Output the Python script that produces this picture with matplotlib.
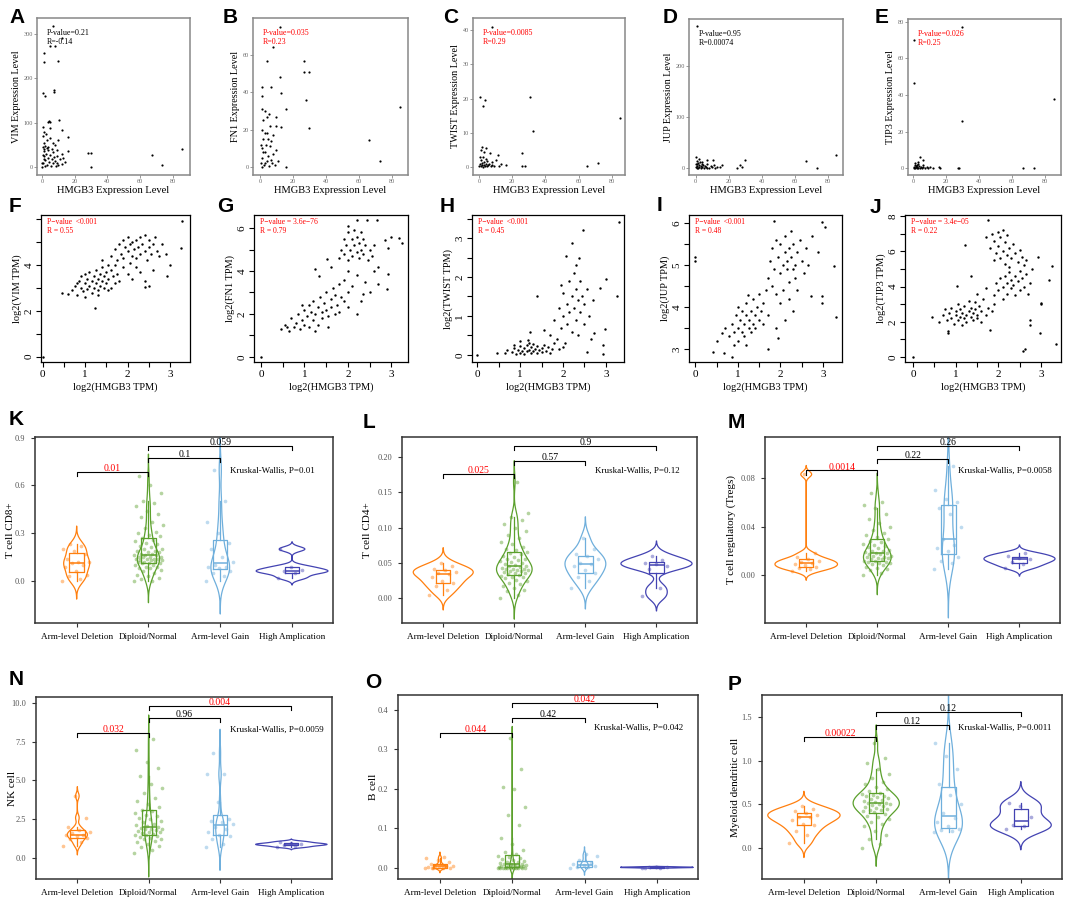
import numpy as np
import matplotlib
matplotlib.use('Agg')
import matplotlib.pyplot as plt

plt.rcParams['font.family'] = ['Liberation Serif', 'DejaVu Serif']

W, H = 1072, 905

# ---------------- A-E: raw expression vs HMGB3 ----------------
a_pts = [(7, 319), (1.4, 257), (1.4, 236), (10, 239), (5, 272), (8, 272), (12, 290), (0.4, 166),
         (1.8, 160), (7.3, 170), (7.3, 174), (10.6, 106), (3.5, 102), (4.2, 103), (4.8, 101), (12.4, 83),
         (16, 68), (4.9, 88), (0.8, 90), (10, 61), (1.5, 80), (2.5, 75), (0.5, 70), (3, 60), (5, 65),
         (6.5, 55), (1.2, 55), (8, 50), (2, 48), (4, 45), (0.5, 45), (16, 35), (28, 31), (30, 31),
         (67, 27), (85.7, 40), (73.5, 4.5), (29.7, 1), (12, 7), (0.3, 0), (0.5, 10), (1, 25), (1.5, 35),
         (2, 15), (2.5, 30), (3, 5), (3.5, 20), (4, 38), (4.5, 12), (5, 28), (5.5, 3), (6, 18), (6.5, 33),
         (7, 8), (7.5, 22), (8, 14), (8.5, 2), (9, 25), (9.5, 10), (10, 5), (11, 18), (12, 30), (13, 20),
         (14, 12), (1, 40), (2, 3), (0.8, 28), (3, 42), (6, 40), (1.5, 18), (9, 38), (0.2, 8)]
b_pts = [(12, 75), (8, 64), (4, 57), (26.7, 57), (26.7, 51), (29.7, 51), (12, 48), (7, 43), (13, 39.5),
         (1, 43), (1, 38), (28, 36), (15.5, 31), (1, 31), (3, 30), (5.5, 28.5), (10, 26.6), (9.7, 22),
         (12.5, 21.5), (30, 21), (85, 32), (66, 14.5), (73, 3), (16, 0), (0.5, 2), (1, 5), (1.5, 10),
         (2, 15), (2.5, 1), (3, 8), (3.5, 12), (4, 3), (4.5, 18), (5, 6), (5.5, 0.5), (6, 11), (6.5, 4),
         (7, 14), (7.5, 2), (8, 7), (9, 1), (10, 9), (11, 3), (1, 20), (2, 25), (3, 18), (0.5, 12),
         (6, 22), (4, 27), (8, 17), (1.5, 0), (3, 2), (5, 15), (2, 8)]
c_pts = [(7.8, 41), (0.6, 20.5), (3.5, 19.5), (2.5, 17.8), (30.7, 20.4), (32.5, 10.5), (85, 14.3),
         (25.7, 4), (26, 0.3), (28, 0.3), (65, 0.3), (71.5, 1.2), (11.6, 3.5), (6.6, 4), (13, 1),
         (16, 0.5), (0.3, 0.2), (0.6, 1), (1, 0.3), (1.3, 2), (1.6, 0.5), (2, 1.2), (2.3, 0.1), (2.6, 3),
         (3, 0.7), (3.3, 1.5), (3.6, 0.2), (4, 2.5), (4.3, 0.8), (4.6, 0.3), (5, 1.8), (5.5, 0.5), (6, 1),
         (7, 0.2), (8, 1.5), (9, 0.4), (10, 2), (1, 5), (2, 6), (3, 4.5), (0.5, 3), (4, 5.5), (8, 0.6),
         (12, 0.2)]
d_pts = [(0.6, 277), (0.5, 22), (6.6, 16), (10.6, 17), (29.7, 16), (26.7, 7), (66.5, 14), (73, 0),
         (85, 26.5), (28, 3), (25, 1), (15, 2), (16, 6), (0.3, 2), (0.6, 5), (1, 8), (1.3, 1), (1.6, 10),
         (2, 3), (2.3, 6), (2.6, 12), (3, 0.5), (3.3, 4), (3.6, 9), (4, 2), (4.5, 7), (5, 1), (5.5, 5),
         (6, 3), (7, 8), (8, 1), (9, 4), (10, 2), (11, 6), (12, 1), (13, 3), (1, 14), (2, 18), (0.8, 0),
         (4, 13), (7, 0), (0.2, 9)]
e_pts = [(29.4, 77), (0.4, 70), (0.4, 46.4), (29.6, 25.8), (85.5, 37.6), (5.7, 4.5), (15.8, 1), (27, 0),
         (28, 0), (66.5, 0), (73.5, 0), (4, 6), (3, 3.5), (6, 2), (0.2, 0.2), (0.5, 1), (0.8, 0.3), (1, 2),
         (1.3, 0.5), (1.6, 1.5), (2, 0.1), (2.3, 0.8), (2.6, 2.5), (3, 0.2), (3.5, 1.2), (4, 0.4),
         (4.5, 0.9), (5, 0.1), (6, 0.6), (7, 0.3), (8, 1), (9, 0.2), (10, 0.5), (12, 0.1), (1, 3), (2, 2),
         (16, 0)]

# ---------------- F-J: log2 TPM vs log2 HMGB3 ----------------
f_pts = [(0.45, 2.8), (0.6, 2.75), (0.7, 2.9), (0.75, 3.1), (0.8, 2.7), (0.85, 3.3), (0.9, 3.0), (0.9, 3.5),
         (0.95, 2.85), (1.0, 3.2), (1.0, 3.6), (1.05, 2.95), (1.05, 3.4), (1.1, 3.1), (1.1, 3.7), (1.15, 2.8),
         (1.15, 3.3), (1.2, 3.5), (1.2, 3.0), (1.25, 3.2), (1.25, 3.8), (1.3, 2.9), (1.3, 3.4), (1.35, 3.6),
         (1.35, 3.1), (1.4, 3.3), (1.4, 3.9), (1.45, 3.0), (1.45, 3.5), (1.5, 3.2), (1.5, 3.7), (1.55, 3.4),
         (1.6, 3.0), (1.6, 3.8), (1.65, 3.5), (1.7, 3.2), (1.7, 4.0), (1.75, 3.6), (1.8, 3.3), (1.23, 2.14),
         (0.8, 3.2), (1.0, 2.6), (1.3, 2.7), (1.55, 2.9), (1.6, 4.4), (1.7, 4.7), (1.75, 4.2), (1.8, 4.9),
         (1.85, 4.5), (1.9, 5.1), (1.9, 4.3), (1.95, 4.8), (2.0, 4.6), (2.0, 5.2), (2.05, 4.1), (2.05, 4.9),
         (2.1, 4.4), (2.1, 5.0), (2.15, 4.7), (2.2, 5.1), (2.2, 4.3), (2.25, 4.8), (2.3, 5.2), (2.3, 4.5),
         (2.35, 4.9), (2.4, 4.6), (2.4, 5.3), (2.45, 4.2), (2.5, 4.8), (2.5, 5.1), (2.55, 4.5), (2.6, 4.9),
         (2.65, 5.2), (2.7, 4.6), (2.75, 4.4), (2.8, 4.9), (2.0, 3.6), (2.1, 3.4), (2.2, 3.9), (2.3, 3.7),
         (2.4, 3.3), (1.9, 3.9), (2.6, 3.8), (2.5, 3.1), (2.92, 3.5), (2.41, 3.06), (3.26, 4.73),
         (3.28, 5.93), (0.0, 0.0), (3.0, 4.0), (2.9, 4.5), (1.4, 4.2), (1.55, 4.0)]
g_pts = [(0.45, 1.3), (0.55, 1.5), (0.65, 1.2), (0.7, 1.8), (0.75, 1.4), (0.8, 1.6), (0.85, 2.0), (0.9, 1.3),
         (0.95, 1.7), (1.0, 2.2), (1.0, 1.5), (1.05, 1.9), (1.1, 2.4), (1.1, 1.4), (1.15, 2.1), (1.2, 1.7),
         (1.2, 2.6), (1.25, 2.0), (1.3, 2.3), (1.3, 1.5), (1.35, 2.8), (1.4, 2.1), (1.4, 1.8), (1.45, 2.5),
         (1.5, 2.2), (1.5, 3.0), (1.55, 1.9), (1.6, 2.7), (1.6, 2.3), (1.65, 3.2), (1.7, 2.0), (1.7, 2.9),
         (1.75, 2.4), (1.8, 3.4), (1.8, 2.1), (1.85, 2.8), (0.6, 1.4), (0.95, 2.4), (1.25, 1.2), (1.55, 1.4),
         (1.24, 4.1), (1.34, 3.78), (1.51, 4.56), (1.6, 4.2), (1.9, 3.6), (2.0, 3.0), (2.0, 4.0), (2.1, 3.3),
         (2.2, 3.8), (2.3, 2.6), (2.35, 2.92), (2.5, 3.0), (2.4, 3.5), (2.6, 4.0), (2.7, 3.4), (2.89, 3.15),
         (2.93, 3.86), (2.0, 2.3), (2.2, 2.0), (1.9, 2.6), (1.8, 4.6), (1.85, 5.0), (1.9, 5.5), (1.9, 4.8),
         (1.95, 5.2), (2.0, 5.8), (2.0, 4.5), (2.05, 5.0), (2.1, 5.5), (2.1, 4.7), (2.15, 5.9), (2.15, 5.2),
         (2.2, 4.9), (2.2, 5.6), (2.25, 5.3), (2.25, 4.6), (2.3, 5.8), (2.3, 5.0), (2.35, 4.8), (2.35, 5.5),
         (2.4, 5.2), (2.45, 4.5), (2.5, 5.0), (2.55, 4.7), (2.6, 5.2), (2.2, 6.4), (2.44, 6.4), (2.66, 6.4),
         (3.18, 5.54), (3.25, 5.3), (2.99, 5.58), (2.85, 5.43), (2.93, 5.08), (2.7, 4.2), (2.0, 6.1),
         (0.0, 0.0)]
h_pts = [(0.46, 0.06), (0.65, 0.05), (0.7, 0.12), (0.8, 0.08), (0.85, 0.18), (0.9, 0.03), (0.95, 0.14),
         (1.0, 0.22), (1.0, 0.06), (1.05, 0.1), (1.1, 0.17), (1.1, 0.02), (1.15, 0.25), (1.15, 0.09),
         (1.2, 0.13), (1.25, 0.05), (1.25, 0.2), (1.3, 0.1), (1.3, 0.28), (1.35, 0.15), (1.4, 0.04),
         (1.4, 0.22), (1.45, 0.12), (1.5, 0.18), (1.5, 0.07), (1.55, 0.25), (1.6, 0.1), (1.65, 0.2),
         (1.7, 0.05), (1.75, 0.15), (1.8, 0.3), (0.85, 0.25), (1.2, 0.32), (1.0, 0.35), (0.0, 0.0),
         (1.23, 0.6), (1.19, 0.38), (1.56, 0.64), (1.39, 1.5), (1.7, 0.5), (1.8, 0.9), (1.85, 0.4),
         (1.9, 1.2), (1.95, 0.7), (2.0, 1.0), (2.0, 1.6), (2.05, 0.3), (2.1, 1.3), (2.1, 0.8), (2.15, 1.9),
         (2.15, 1.1), (2.2, 0.6), (2.2, 1.5), (2.25, 1.2), (2.25, 2.1), (2.3, 0.9), (2.3, 1.7), (2.35, 1.4),
         (2.35, 0.5), (2.4, 1.1), (2.4, 1.9), (2.45, 1.5), (2.5, 0.8), (2.5, 1.3), (2.55, 1.7), (2.6, 1.0),
         (2.65, 0.4), (2.7, 1.4), (2.07, 2.54), (2.38, 2.5), (2.22, 2.86), (2.47, 3.2), (3.3, 3.4),
         (3.0, 1.94), (3.25, 1.52), (2.86, 1.71), (2.72, 0.56), (2.98, 0.66), (2.94, 0.26), (2.94, 0.03),
         (2.55, 0.07), (1.9, 0.15), (2.0, 0.2), (1.95, 1.8), (2.3, 2.3)]
i_pts = [(0.42, 2.92), (0.68, 2.9), (0.85, 2.82), (0.62, 3.37), (0.5, 3.2), (0.7, 3.5), (0.8, 3.3), (0.85, 3.6),
         (0.9, 3.4), (0.95, 3.8), (1.0, 3.5), (1.0, 3.2), (1.05, 3.7), (1.1, 3.4), (1.1, 3.9), (1.15, 3.6),
         (1.15, 3.3), (1.2, 3.8), (1.2, 4.1), (1.25, 3.5), (1.25, 3.7), (1.3, 3.9), (1.3, 3.4), (1.35, 3.6),
         (1.35, 4.2), (1.4, 3.8), (1.4, 3.5), (1.45, 4.0), (1.5, 3.7), (1.5, 4.3), (1.55, 3.9), (1.6, 3.6),
         (1.6, 4.1), (1.65, 4.4), (1.7, 3.8), (1.71, 2.99), (1.95, 3.25), (1.24, 4.29), (1.0, 4.0), (0.9, 3.1),
         (1.2, 3.1), (1.7, 4.7), (1.75, 5.1), (1.8, 4.5), (1.8, 5.4), (1.85, 4.9), (1.9, 5.6), (1.9, 4.3),
         (1.95, 5.2), (2.0, 4.8), (2.0, 5.5), (2.05, 5.0), (2.05, 4.4), (2.1, 5.7), (2.1, 5.3), (2.15, 4.9),
         (2.15, 5.1), (2.2, 5.4), (2.2, 4.6), (2.25, 5.8), (2.25, 5.2), (2.3, 4.9), (2.3, 5.5), (2.35, 5.0),
         (2.35, 4.7), (2.4, 5.3), (2.45, 5.6), (2.5, 5.1), (2.55, 4.8), (2.6, 5.4), (2.65, 5.0), (2.0, 4.1),
         (2.2, 4.2), (2.4, 4.4), (1.85, 6.05), (0.0, 5.2), (0.0, 5.1), (2.99, 6.03), (3.05, 5.9), (3.27, 4.98),
         (2.89, 5.3), (2.97, 4.25), (2.97, 4.1), (2.72, 4.26), (3.32, 3.75), (2.75, 5.7), (2.1, 3.7),
         (2.3, 3.9), (1.9, 3.5)]
j_pts = [(0.44, 2.25), (0.6, 2.0), (0.7, 2.4), (0.75, 2.7), (0.8, 2.1), (0.83, 1.5), (0.83, 1.34), (0.85, 2.5),
         (0.9, 2.2), (0.9, 2.8), (0.95, 1.9), (1.0, 2.4), (1.0, 2.6), (1.05, 2.1), (1.05, 3.0), (1.1, 2.3),
         (1.1, 2.7), (1.15, 1.8), (1.15, 2.5), (1.2, 2.2), (1.2, 2.9), (1.25, 2.4), (1.25, 2.0), (1.3, 2.6),
         (1.3, 3.2), (1.35, 2.3), (1.35, 2.8), (1.4, 2.1), (1.4, 2.5), (1.45, 2.7), (1.45, 3.1), (1.5, 2.2),
         (1.5, 2.4), (1.55, 2.9), (1.6, 2.6), (1.6, 2.0), (1.65, 3.3), (1.7, 2.4), (1.75, 2.8), (1.8, 1.53),
         (1.85, 2.6), (1.9, 3.0), (1.02, 4.04), (1.37, 4.59), (1.22, 6.35), (0.0, 0.0), (1.5, 3.6), (1.7, 3.9),
         (1.9, 3.5), (1.95, 4.2), (2.0, 3.8), (2.05, 4.5), (2.1, 3.3), (2.1, 4.0), (2.15, 4.6), (2.2, 4.2),
         (2.2, 3.6), (2.25, 4.8), (2.3, 4.4), (2.3, 3.9), (2.35, 4.1), (2.4, 4.6), (2.4, 3.5), (2.45, 4.3),
         (2.5, 4.9), (2.5, 3.8), (2.55, 4.5), (2.6, 4.0), (2.65, 4.7), (2.7, 3.6), (2.75, 4.2), (2.8, 5.0),
         (1.7, 6.8), (1.76, 7.76), (1.8, 6.2), (1.85, 7.0), (1.9, 5.5), (1.9, 6.6), (1.95, 5.9), (2.0, 7.1),
         (2.0, 6.3), (2.05, 5.6), (2.05, 6.8), (2.1, 6.0), (2.1, 7.2), (2.15, 5.3), (2.15, 6.5), (2.2, 5.8),
         (2.2, 6.9), (2.25, 6.2), (2.25, 5.1), (2.3, 5.6), (2.35, 6.4), (2.4, 5.9), (2.45, 5.4), (2.5, 6.1),
         (2.55, 5.7), (2.6, 5.2), (2.65, 5.5), (2.93, 5.68), (3.26, 5.17), (3.01, 3.04), (2.99, 3.0),
         (2.62, 0.43), (2.57, 0.34), (3.36, 0.72), (2.97, 1.34), (2.74, 2.1), (2.74, 1.8), (3.2, 4.4)]

# ---------------- K-P: immune infiltration by HMGB3 copy number ----------------
groups = ['Arm-level Deletion', 'Diploid/Normal', 'Arm-level Gain', 'High Amplication']

k_del = [0.0, 0.01, 0.03, 0.04, 0.06, 0.09, 0.10, 0.11, 0.12, 0.12, 0.14, 0.17, 0.19, 0.20, 0.22, 0.23]
k_dip = [0.0, 0.0, 0.01, 0.02, 0.03, 0.04, 0.05, 0.06, 0.07, 0.08, 0.08, 0.09, 0.09, 0.10, 0.10, 0.11, 0.11,
         0.11, 0.12, 0.12, 0.12, 0.13, 0.13, 0.13, 0.14, 0.14, 0.14, 0.14, 0.15, 0.15, 0.15, 0.15, 0.16, 0.16,
         0.16, 0.17, 0.17, 0.18, 0.18, 0.19, 0.19, 0.20, 0.20, 0.21, 0.22, 0.23, 0.24, 0.25, 0.26, 0.27, 0.28,
         0.29, 0.30, 0.31, 0.33, 0.35, 0.37, 0.40, 0.42, 0.44, 0.47, 0.49, 0.50, 0.55, 0.60, 0.66]
k_gain = [0.0, 0.03, 0.05, 0.06, 0.08, 0.09, 0.09, 0.10, 0.12, 0.15, 0.20, 0.24, 0.30, 0.37, 0.50, 0.70]
k_amp = [0.02, 0.05, 0.06, 0.07, 0.09, 0.20]

l_del = [0.005, 0.012, 0.018, 0.022, 0.025, 0.03, 0.034, 0.036, 0.037, 0.04, 0.041, 0.045, 0.05]
l_dip = [0.0, 0.005, 0.01, 0.012, 0.015, 0.018, 0.02, 0.022, 0.024, 0.026, 0.028, 0.03, 0.03, 0.032, 0.033,
         0.034, 0.035, 0.036, 0.037, 0.038, 0.039, 0.04, 0.04, 0.041, 0.042, 0.042, 0.043, 0.044, 0.045, 0.046,
         0.047, 0.048, 0.05, 0.051, 0.052, 0.054, 0.055, 0.056, 0.058, 0.06, 0.062, 0.064, 0.066, 0.068, 0.07,
         0.073, 0.076, 0.08, 0.085, 0.09, 0.095, 0.1, 0.105, 0.11, 0.115, 0.12, 0.165]
l_gain = [0.015, 0.025, 0.03, 0.035, 0.04, 0.045, 0.048, 0.05, 0.055, 0.06, 0.062, 0.07, 0.085]
l_amp = [0.003, 0.015, 0.042, 0.046, 0.048, 0.05, 0.054, 0.06]

m_del = [0.003, 0.005, 0.006, 0.007, 0.008, 0.009, 0.01, 0.011, 0.012, 0.013, 0.015, 0.018, 0.083]
m_dip = [0.0, 0.002, 0.004, 0.005, 0.006, 0.007, 0.008, 0.009, 0.01, 0.01, 0.011, 0.011, 0.012, 0.012, 0.013,
         0.013, 0.014, 0.014, 0.015, 0.015, 0.016, 0.016, 0.017, 0.017, 0.018, 0.018, 0.019, 0.02, 0.02, 0.021,
         0.022, 0.023, 0.024, 0.025, 0.026, 0.027, 0.028, 0.03, 0.031, 0.033, 0.035, 0.037, 0.04, 0.043, 0.046,
         0.05, 0.055, 0.058, 0.06, 0.068]
m_gain = [0.005, 0.01, 0.012, 0.015, 0.02, 0.022, 0.025, 0.03, 0.04, 0.05, 0.055, 0.06, 0.063, 0.07, 0.09]
m_amp = [0.006, 0.009, 0.011, 0.013, 0.014, 0.016, 0.018]

n_del = [0.8, 1.0, 1.2, 1.3, 1.4, 1.5, 1.5, 1.6, 1.7, 1.8, 2.0, 2.6, 4.0]
n_dip = [0.3, 0.5, 0.7, 0.8, 0.9, 1.0, 1.1, 1.2, 1.25, 1.3, 1.35, 1.4, 1.45, 1.5, 1.55, 1.6, 1.65, 1.7, 1.75,
         1.8, 1.85, 1.9, 1.9, 1.95, 2.0, 2.05, 2.1, 2.2, 2.3, 2.4, 2.5, 2.6, 2.7, 2.8, 2.9, 3.0, 3.1, 3.3, 3.5,
         3.7, 3.9, 4.2, 4.5, 4.8, 5.3, 5.8, 6.2, 7.0, 7.7]
n_gain = [0.7, 0.9, 1.2, 1.4, 1.5, 1.7, 1.9, 2.0, 2.2, 2.3, 2.4, 2.5, 3.6, 5.4, 5.4, 6.8]
n_amp = [0.7, 0.8, 0.85, 0.9, 0.95, 1.05]

o_del = [0.0, 0.0, 0.0, 0.001, 0.002, 0.003, 0.004, 0.005, 0.006, 0.008, 0.01, 0.015, 0.02, 0.025, 0.028, 0.0]
o_dip = [0.0, 0.0, 0.0, 0.0, 0.0, 0.0, 0.0, 0.0, 0.001, 0.001, 0.001, 0.002, 0.002, 0.002, 0.003, 0.003, 0.004,
         0.004, 0.005, 0.005, 0.006, 0.007, 0.008, 0.009, 0.01, 0.011, 0.012, 0.014, 0.016, 0.018, 0.02, 0.022,
         0.025, 0.028, 0.03, 0.035, 0.04, 0.045, 0.06, 0.075, 0.11, 0.135, 0.155, 0.2, 0.205, 0.25, 0.33]
o_gain = [0.0, 0.002, 0.003, 0.005, 0.007, 0.01, 0.012, 0.02, 0.03, 0.035]
o_amp = [0.0, 0.001, 0.002, 0.003, 0.002, 0.001]

p_del = [0.06, 0.15, 0.2, 0.26, 0.28, 0.32, 0.35, 0.36, 0.38, 0.4, 0.42, 0.45, 0.48]
p_dip = [0.0, 0.05, 0.1, 0.15, 0.2, 0.25, 0.28, 0.3, 0.33, 0.35, 0.37, 0.39, 0.41, 0.42, 0.43, 0.44, 0.45,
         0.46, 0.47, 0.48, 0.49, 0.5, 0.5, 0.51, 0.52, 0.53, 0.54, 0.55, 0.56, 0.57, 0.58, 0.59, 0.6, 0.61, 0.62,
         0.63, 0.65, 0.67, 0.7, 0.73, 0.76, 0.8, 0.85, 0.9, 0.97, 1.03, 1.2]
p_gain = [0.18, 0.2, 0.21, 0.22, 0.25, 0.3, 0.34, 0.4, 0.5, 0.61, 0.73, 0.9, 1.05, 1.2]
p_amp = [0.22, 0.25, 0.26, 0.36, 0.48, 0.52]

# pairwise p values (1-2, 2-3, 2-4) and Kruskal-Wallis
k_p = ['0.01', '0.1', '0.059']
l_p = ['0.025', '0.57', '0.9']
m_p = ['0.0014', '0.22', '0.26']
n_p = ['0.032', '0.96', '0.004']
o_p = ['0.044', '0.42', '0.042']
p_p = ['0.00022', '0.12', '0.12']
kw_p = ['0.01', '0.12', '0.0058', '0.0059', '0.042', '0.0011']

vcolors = ['#FF7F0E', '#5BA02C', '#6FAFDC', '#4343B2']

fig = plt.figure(figsize=(W / 100, H / 100), dpi=100)
fig.patch.set_facecolor('white')


def px_axes(l, t, r, b):
    return fig.add_axes([l / W, 1 - b / H, (r - l) / W, (b - t) / H])


def letter(x, y, s):
    fig.text(x / W, 1 - y / H, s, fontsize=15, fontweight='bold', family='Liberation Sans',
             va='top', ha='left')


def raw_panel(rect, pts, ylab, xlim, ylim, yticks, ptxt, rtxt, col):
    ax = px_axes(*rect)
    p = np.array(pts, float)
    ax.scatter(p[:, 0], p[:, 1], s=2.5, c='black', linewidths=0)
    ax.set_xlim(xlim)
    ax.set_ylim(ylim)
    ax.set_xticks([0, 20, 40, 60, 80])
    ax.set_yticks(yticks)
    ax.tick_params(length=2, width=0.6, color='#888888', labelcolor='#666666', labelsize=4.5, pad=1)
    for sp in ax.spines.values():
        sp.set_color('#888888')
        sp.set_linewidth(1.1)
    ax.set_xlabel('HMGB3 Expression Level', fontsize=7.6, labelpad=1)
    ax.set_ylabel(ylab, fontsize=7.3, labelpad=2)
    ax.text(0.065, 0.905, ptxt, transform=ax.transAxes, color=col, fontsize=5.8, va='center')
    ax.text(0.065, 0.845, rtxt, transform=ax.transAxes, color=col, fontsize=5.8, va='center')


def tpm_panel(rect, pts, ylab, xlim, ylim, yt, ytl, ptxt, rtxt):
    ax = px_axes(*rect)
    p = np.array(pts, float)
    ax.scatter(p[:, 0], p[:, 1], s=3, c='black', linewidths=0)
    ax.set_xlim(xlim)
    ax.set_ylim(ylim)
    xt = [t for t in np.arange(0, 4, 0.5) if t <= xlim[1]]
    ax.set_xticks(xt)
    ax.set_xticklabels([str(int(t)) if t == int(t) else '' for t in xt])
    ax.set_yticks(yt)
    ax.set_yticklabels(ytl, rotation=90, va='center')
    ax.tick_params(length=3.5, width=0.8, labelsize=8, pad=2)
    for sp in ax.spines.values():
        sp.set_linewidth(0.9)
    ax.set_xlabel('log2(HMGB3 TPM)', fontsize=7.5, labelpad=3)
    ax.set_ylabel(ylab, fontsize=7.5, labelpad=2)
    ax.text(0.04, 0.95, ptxt, transform=ax.transAxes, color='red', fontsize=5.5, va='center')
    ax.text(0.04, 0.89, rtxt, transform=ax.transAxes, color='red', fontsize=5.5, va='center')


def nrd0(x):
    sd = np.std(x, ddof=1)
    q1, q3 = np.percentile(x, [25, 75])
    lo = min(sd, (q3 - q1) / 1.34)
    if lo <= 0:
        lo = sd
    return 0.9 * lo * len(x) ** -0.2


def kde(x):
    x = np.asarray(x, float)
    bw = nrd0(x)
    grid = np.linspace(x.min() - 3 * bw, x.max() + 3 * bw, 400)
    d = np.exp(-0.5 * ((grid[:, None] - x[None, :]) / bw) ** 2).sum(1)
    return grid, d / (len(x) * bw * np.sqrt(2 * np.pi))


def violin_panel(rect, vals, ylab, ylim, yticks, ytl, pvals, bry, kw, lab_x):
    ax = px_axes(*rect)
    dens = [kde(v) for v in vals]
    dmax = max(d.max() for g, d in dens)
    for i, (v, (g, d)) in enumerate(zip(vals, dens)):
        pos = i + 1
        c = vcolors[i]
        half = d / dmax * 0.5
        ax.fill_betweenx(g, pos - half, pos + half, facecolor='none', edgecolor=c, lw=0.9)
        ax.boxplot([v], positions=[pos], widths=0.2, showfliers=False, showcaps=False,
                   manage_ticks=False,
                   boxprops=dict(color=c, lw=0.9), whiskerprops=dict(color=c, lw=0.9),
                   medianprops=dict(color=c, lw=1.1))
        n = len(v)
        jit = ((np.arange(n) * 0.618034) % 1 - 0.5) * 0.4
        ax.scatter(pos + jit, v, s=7, color=c, alpha=0.45, linewidths=0, zorder=3)
    span = ylim[1] - ylim[0]
    pairs = [(1, 2), (2, 3), (2, 4)]
    for (x1, x2), y, lab in zip(pairs, bry, pvals):
        col = 'red' if float(lab) < 0.05 else 'black'
        tip = 0.022 * span
        ax.plot([x1, x1, x2, x2], [y - tip, y, y, y - tip], color='black', lw=0.8)
        ax.text((x1 + x2) / 2, y - 0.006 * span, lab, ha='center', va='bottom', fontsize=7, color=col)
    ax.text(0.655, 0.82, 'Kruskal-Wallis, P=' + kw, transform=ax.transAxes, fontsize=6.5, va='center')
    ax.set_xlim(0.42, 4.57)
    ax.set_ylim(ylim)
    ax.set_xticks([1, 2, 3, 4])
    ax.set_xticklabels(groups, fontsize=6.6)
    ax.set_yticks(yticks)
    ax.set_yticklabels(ytl, fontsize=6, color='#555555')
    ax.tick_params(length=3, width=0.8, color='#333333', pad=4)
    for sp in ax.spines.values():
        sp.set_color('#333333')
        sp.set_linewidth(1.1)
    # y label centred at a fixed pixel column (label grows to the left of this coord)
    ax.set_ylabel(ylab, fontsize=8)
    ax.yaxis.set_label_coords((lab_x + 5.5 - rect[0]) / (rect[2] - rect[0]), 0.5)


# ---- row 1 ----
raw_panel((37, 18, 190, 175), a_pts, 'VIM Expression Level', (-3, 90.4), (-18, 336), [0, 100, 200, 300],
          'P-value=0.21', 'R=-0.14', 'black')
raw_panel((253, 18, 408, 175), b_pts, 'FN1 Expression Level', (-4.2, 89.7), (-4.3, 79.8), [0, 20, 40, 60],
          'P-value=0.035', 'R=0.23', 'red')
raw_panel((473, 18, 625, 175), c_pts, 'TWIST Expression Level', (-3.6, 88), (-2.3, 43.5),
          [0, 10, 20, 30, 40], 'P-value=0.0085', 'R=0.29', 'red')
raw_panel((689, 19, 843, 175), d_pts, 'JUP Expression Level', (-4, 89), (-13, 291), [0, 100, 200],
          'P-value=0.95', 'R=0.00074', 'black')
raw_panel((908, 19, 1061, 175), e_pts, 'TJP3 Expression Level', (-3.3, 89.7), (-3.6, 81.5),
          [0, 20, 40, 60, 80], 'P-value=0.026', 'R=0.25', 'red')

# ---- row 2 ----
tpm_panel((41, 215, 190, 362), f_pts, 'log2(VIM TPM)', (-0.04, 3.47), (-0.23, 6.18), list(range(7)),
          ['0', '', '2', '', '4', '', ''], 'P\u2212value  <0.001', 'R = 0.55')
tpm_panel((254, 215, 408, 362), g_pts, 'log2(FN1 TPM)', (-0.16, 3.38), (-0.24, 6.61), list(range(7)),
          ['0', '', '2', '', '4', '', '6'], 'P\u2212value = 3.6e\u221276', 'R = 0.79')
tpm_panel((472, 215, 624, 362), h_pts, 'log2(TWIST TPM)', (-0.12, 3.42), (-0.18, 3.59),
          [0, 0.5, 1, 1.5, 2, 2.5, 3, 3.5], ['0', '', '1', '', '2', '', '3', ''],
          'P\u2212value  <0.001', 'R = 0.45')
tpm_panel((689, 215, 842, 362), i_pts, 'log2(JUP TPM)', (-0.15, 3.45), (2.69, 6.19),
          [3, 3.5, 4, 4.5, 5, 5.5, 6], ['3', '', '4', '', '5', '', '6'], 'P\u2212value  <0.001', 'R = 0.48')
tpm_panel((905, 215, 1061, 362), j_pts, 'log2(TJP3 TPM)', (-0.19, 3.47), (-0.28, 8.06), list(range(9)),
          ['0', '', '2', '', '4', '', '6', '', '8'], 'P\u2212value = 3.4e\u221205', 'R = 0.22')

# ---- rows 3-4 ----
violin_panel((35, 437, 333, 623), [k_del, k_dip, k_gain, k_amp], 'T cell CD8+', (-0.265, 0.905),
             [0, 0.3, 0.6, 0.9], ['0.0', '0.3', '0.6', '0.9'], k_p, [0.686, 0.773, 0.85], kw_p[0], 9)
violin_panel((402, 437, 697, 623), [l_del, l_dip, l_gain, l_amp], 'T cell CD4+', (-0.035, 0.228),
             [0, 0.05, 0.1, 0.15, 0.2], ['0.00', '0.05', '0.10', '0.15', '0.20'], l_p,
             [0.176, 0.194, 0.215], kw_p[1], 367)
violin_panel((765, 437, 1060, 623), [m_del, m_dip, m_gain, m_amp], 'T cell regulatory (Tregs)',
             (-0.0394, 0.1137), [0, 0.04, 0.08], ['0.00', '0.04', '0.08'], m_p, [0.0862, 0.096, 0.106],
             kw_p[2], 731)
violin_panel((36, 697, 332, 879), [n_del, n_dip, n_gain, n_amp], 'NK cell', (-1.36, 10.39),
             [0, 2.5, 5, 7.5, 10], ['0.0', '2.5', '5.0', '7.5', '10.0'], n_p, [8.07, 9.04, 9.82], kw_p[3], 12)
violin_panel((398, 695, 698, 879), [o_del, o_dip, o_gain, o_amp], 'B cell', (-0.028, 0.438),
             [0, 0.1, 0.2, 0.3, 0.4], ['0.0', '0.1', '0.2', '0.3', '0.4'], o_p, [0.342, 0.38, 0.418],
             kw_p[4], 372)
violin_panel((762, 695, 1062, 879), [p_del, p_dip, p_gain, p_amp], 'Myeloid dendritic cell',
             (-0.355, 1.752), [0, 0.5, 1.0, 1.5], ['0.0', '0.5', '1.0', '1.5'], p_p, [1.27, 1.407, 1.556],
             kw_p[5], 734)

for s, x, y in [('A', 9, 8), ('B', 223, 8), ('C', 443, 8), ('D', 663, 8), ('E', 875, 8),
                ('F', 9, 197), ('G', 217, 197), ('H', 440, 197), ('I', 657, 196), ('J', 870, 198),
                ('K', 9, 410), ('L', 363, 413), ('M', 728, 413),
                ('N', 9, 670), ('O', 365, 673), ('P', 728, 675)]:
    letter(x, y, s)

fig.savefig('out.png', dpi=100)
